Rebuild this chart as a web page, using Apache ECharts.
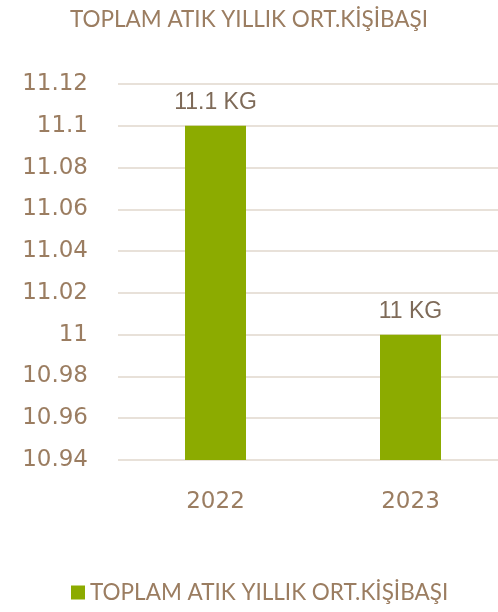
<!DOCTYPE html>
<html>
<head>
<meta charset="utf-8">
<script src="https://cdn.jsdelivr.net/npm/echarts@6/dist/echarts.min.js"></script>
<style>
  html, body { margin: 0; padding: 0; background: #fff; }
  #chart { width: 498px; height: 612px; }
</style>
</head>
<body>
<div id="chart"></div>
<script>
// chart data
const seriesName = 'TOPLAM ATIK YILLIK ORT.KİŞİBAŞI'
const years = ['2022', '2023']
const values = [11.1, 11]
const valueLabels = ['11.1 KG', '11 KG']

const brown = '#9B7D61'

const chart = echarts.init(document.getElementById('chart'))
chart.setOption({
  animation: false,
  title: {
    text: seriesName,
    left: 'center',
    top: 3,
    textStyle: {
      color: brown,
      fontFamily: 'Lato',
      fontWeight: 'normal',
      fontSize: 22.5
    }
  },
  grid: {
    left: 118,
    top: 84,
    width: 390,
    height: 376,
    outerBoundsMode: 'none'
  },
  legend: {
    bottom: 3,
    left: 66,
    icon: 'rect',
    itemWidth: 14,
    itemHeight: 14,
    itemGap: 7,
    textStyle: {
      color: brown,
      fontFamily: 'Lato',
      fontSize: 22.5
    }
  },
  xAxis: {
    type: 'category',
    data: years,
    axisLine: { show: false },
    axisTick: { show: false },
    axisLabel: {
      color: brown,
      fontFamily: 'DejaVu Sans',
      fontSize: 23,
      margin: 31
    }
  },
  yAxis: {
    type: 'value',
    min: 10.94,
    max: 11.12,
    interval: 0.02,
    axisLine: { show: false },
    axisTick: { show: false },
    splitLine: { lineStyle: { color: '#E8E1D9', width: 2 } },
    axisLabel: {
      color: brown,
      fontFamily: 'DejaVu Sans',
      fontSize: 23,
      margin: 30,
      formatter: v => String(Math.round(v * 100) / 100)
    }
  },
  series: [{
    name: seriesName,
    type: 'bar',
    data: values,
    barWidth: 61,
    itemStyle: { color: '#8CAB00' },
    label: {
      show: true,
      position: 'top',
      distance: 12,
      color: '#7E6A58',
      fontFamily: 'Liberation Sans',
      fontSize: 23,
      formatter: p => valueLabels[p.dataIndex]
    }
  }]
})
</script>
</body>
</html>
